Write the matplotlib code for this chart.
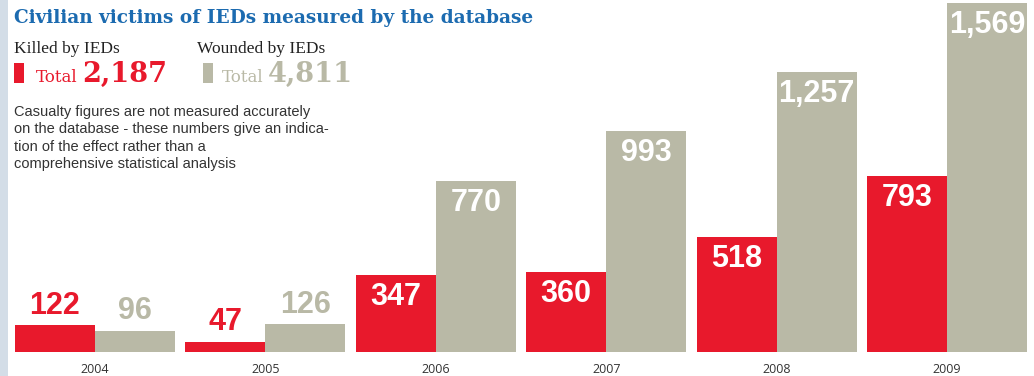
import numpy as np
import matplotlib.pyplot as plt
import matplotlib.patches as mpatches

years = ["2004", "2005", "2006", "2007", "2008", "2009"]
killed = [122, 47, 347, 360, 518, 793]
wounded = [96, 126, 770, 993, 1257, 1569]
total_killed = "2,187"
total_wounded = "4,811"

RED = "#e8192c"
GREY = "#b9b9a6"
BLUE = "#1c6bb0"

fig = plt.figure(figsize=(10.34, 3.76), dpi=100)
fig.patch.set_facecolor("white")

# light strip on the left edge
fig.add_artist(mpatches.Rectangle((0, 0), 8 / 1034, 1, transform=fig.transFigure,
                                  facecolor="#d3dde7", edgecolor="none"))

ax = fig.add_axes([0, 24 / 376, 1, 352 / 376])
ax.set_facecolor("none")
x = np.arange(len(years))
w = 0.47
ax.bar(x - w / 2, killed, width=w, color=RED, linewidth=0)
ax.bar(x + w / 2, wounded, width=w, color=GREY, linewidth=0)
ax.set_xlim(-95 / 170.4, (1034 - 95) / 170.4)
ax.set_ylim(0, max(wounded) * 352 / 349)
ax.axis("off")

label_font = dict(family="Liberation Sans", fontsize=22, fontweight="bold")
for xi, k, wd in zip(x, killed, wounded):
    for xpos, v, col in ((xi - w / 2, k, RED), (xi + w / 2, wd, GREY)):
        txt = f"{v:,}"
        if v < 200:
            ax.annotate(txt, (xpos, v), xytext=(0, 3), textcoords="offset points",
                        ha="center", va="bottom", color=col, **label_font)
        else:
            ax.annotate(txt, (xpos, v), xytext=(0, -5), textcoords="offset points",
                        ha="center", va="top", color="white", **label_font)
    ax.annotate(years[xi], (xi, 0), xytext=(0, -8), textcoords="offset points",
                ha="center", va="top", color="#333333", fontsize=9,
                family="Open Sans", annotation_clip=False)

# header
fig.text(14 / 1034, 1 - 9 / 376, "Civilian victims of IEDs measured by the database",
         ha="left", va="top", color=BLUE, fontsize=13.3, fontweight="bold",
         family="DejaVu Serif")
fig.text(14 / 1034, 1 - 41 / 376, "Killed by IEDs", ha="left", va="top",
         color="#222222", fontsize=12.5, family="Liberation Serif")
fig.text(197 / 1034, 1 - 41 / 376, "Wounded by IEDs", ha="left", va="top",
         color="#222222", fontsize=12.5, family="Liberation Serif")

fig.add_artist(mpatches.Rectangle((14 / 1034, 1 - 83 / 376), 10 / 1034, 20 / 376,
                                  transform=fig.transFigure, facecolor=RED, edgecolor="none"))
fig.add_artist(mpatches.Rectangle((203 / 1034, 1 - 83 / 376), 10 / 1034, 20 / 376,
                                  transform=fig.transFigure, facecolor=GREY, edgecolor="none"))
fig.text(36 / 1034, 1 - 82 / 376, "Total", ha="left", va="baseline",
         color=RED, fontsize=12, family="DejaVu Serif")
fig.text(82 / 1034, 1 - 82 / 376, total_killed, ha="left", va="baseline",
         color=RED, fontsize=19.5, fontweight="semibold", family="DejaVu Serif")
fig.text(222 / 1034, 1 - 82 / 376, "Total", ha="left", va="baseline",
         color=GREY, fontsize=12, family="DejaVu Serif")
fig.text(268 / 1034, 1 - 82 / 376, total_wounded, ha="left", va="baseline",
         color=GREY, fontsize=19.5, fontweight="semibold", family="DejaVu Serif")

note = ("Casualty figures are not measured accurately\n"
        "on the database - these numbers give an indica-\n"
        "tion of the effect rather than a\n"
        "comprehensive statistical analysis")
fig.text(14 / 1034, 1 - 105 / 376, note, ha="left", va="top", color="#333333",
         fontsize=10.5, family="Liberation Sans", linespacing=1.3)

fig.savefig("out.png", dpi=100)
